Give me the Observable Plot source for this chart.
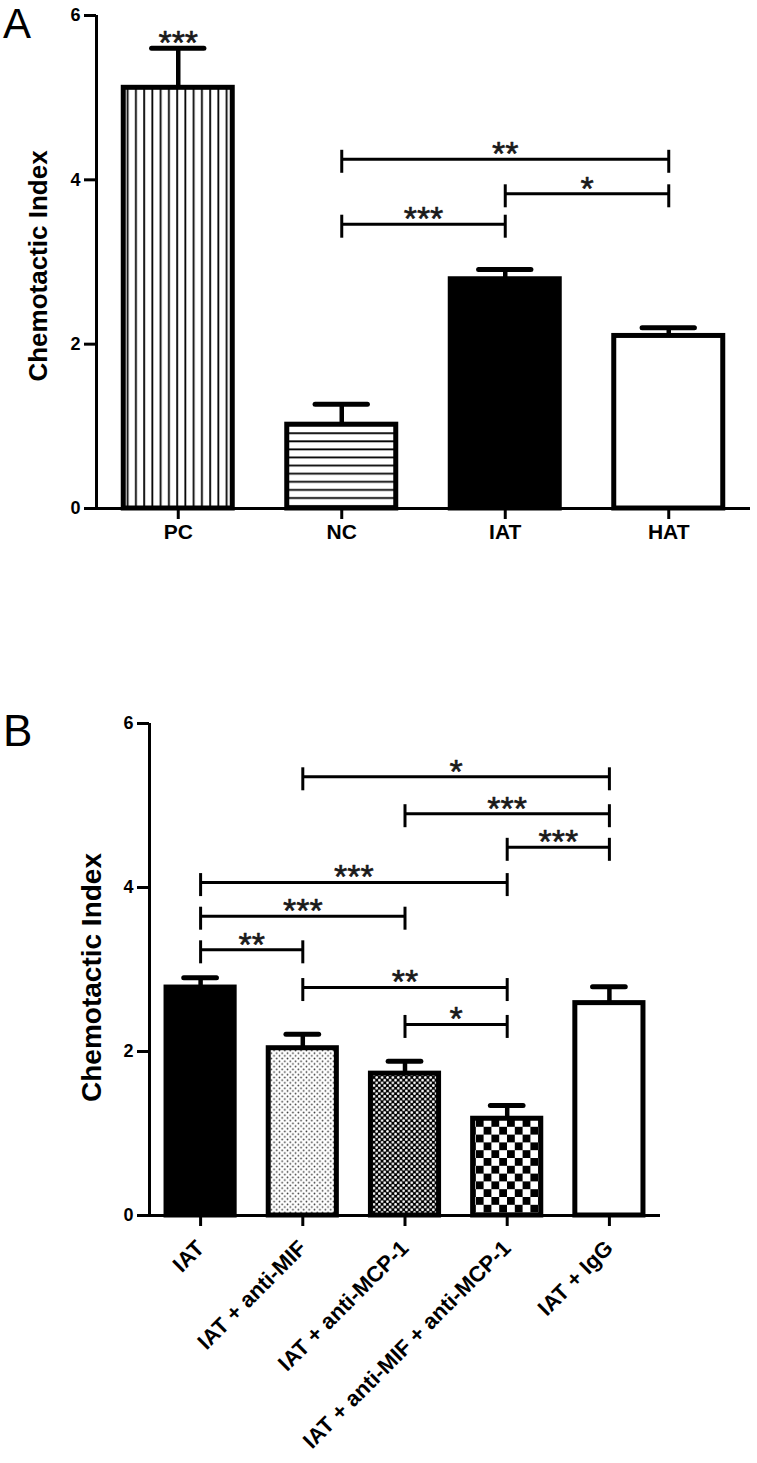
<!DOCTYPE html>
<html>
<head>
<meta charset="utf-8">
<script src="https://cdn.jsdelivr.net/npm/d3@7"></script>
<script src="https://cdn.jsdelivr.net/npm/@observablehq/plot@0.6"></script>
<style>
html,body{margin:0;padding:0;background:#fff;}
#root{position:relative;width:757px;height:1463px;overflow:hidden;font-family:"Liberation Sans",Arial,sans-serif;}
.letter{position:absolute;left:3px;font-size:42px;line-height:1.15;color:#000;font-weight:normal;z-index:2;}
.chart{position:absolute;left:0;}
</style>
</head>
<body>
<div id="root">
<svg width="0" height="0" style="position:absolute;left:0;top:0">
  <defs>
    <pattern id="vlines" patternUnits="userSpaceOnUse" width="8.25" height="8">
      <rect width="8.25" height="8" fill="#fff"/>
      <rect x="3" y="0" width="1.8" height="8" fill="#000"/>
    </pattern>
    <pattern id="hlines" patternUnits="userSpaceOnUse" width="8" height="8.1">
      <rect width="8" height="8.1" fill="#fff"/>
      <rect x="0" y="3" width="8" height="1.8" fill="#000"/>
    </pattern>
    <pattern id="dots" patternUnits="userSpaceOnUse" width="5.4" height="5.4">
      <rect width="5.4" height="5.4" fill="#fff"/>
      <circle cx="1.35" cy="1.35" r="0.85" fill="#333"/>
      <circle cx="4.05" cy="4.05" r="0.85" fill="#333"/>
    </pattern>
    <pattern id="finecheck" patternUnits="userSpaceOnUse" width="5.4" height="5.4">
      <rect width="5.4" height="5.4" fill="#000"/>
      <circle cx="1.35" cy="1.35" r="1.35" fill="#fff"/>
      <circle cx="4.05" cy="4.05" r="1.35" fill="#fff"/>
    </pattern>
    <pattern id="checker" patternUnits="userSpaceOnUse" width="15.6" height="15.6">
      <rect width="15.6" height="15.6" fill="#fff"/>
      <rect x="0" y="0" width="7.8" height="7.8" fill="#000"/>
      <rect x="7.8" y="7.8" width="7.8" height="7.8" fill="#000"/>
    </pattern>
  </defs>
</svg>
<div class="letter" style="top:0px">A</div>
<div class="letter" style="top:706px;font-size:44px">B</div>
<div id="chartA" class="chart" style="top:0px"></div>
<div id="chartB" class="chart" style="top:690px"></div>
</div>
<script>
// ---------- Panel A data ----------
const catsA = ["PC", "NC", "IAT", "HAT"];
const meanA = [5.12, 1.02, 2.79, 2.10];
const semA  = [0.48, 0.25, 0.12, 0.10];
const fillsA = ["url(#vlines)", "url(#hlines)", "#000", "#fff"];
const topStarA = ["***", "", "", ""];
const sigAFrom  = ["NC", "IAT", "NC"];
const sigATo    = ["HAT", "HAT", "IAT"];
const sigALevel = [4.25, 3.83, 3.46];
const sigALabel = ["**", "*", "***"];

// ---------- Panel B data ----------
const catsB = ["IAT", "IAT + anti-MIF", "IAT + anti-MCP-1", "IAT + anti-MIF + anti-MCP-1", "IAT + IgG"];
const meanB = [2.78, 2.04, 1.73, 1.18, 2.59];
const semB  = [0.12, 0.17, 0.15, 0.16, 0.20];
const fillsB = ["#000", "url(#dots)", "url(#finecheck)", "url(#checker)", "#fff"];
const sigBFrom  = ["IAT + anti-MIF", "IAT + anti-MCP-1", "IAT + anti-MIF + anti-MCP-1", "IAT", "IAT", "IAT", "IAT + anti-MIF", "IAT + anti-MCP-1"];
const sigBTo    = ["IAT + IgG", "IAT + IgG", "IAT + IgG", "IAT + anti-MIF + anti-MCP-1", "IAT + anti-MCP-1", "IAT + anti-MIF", "IAT + anti-MIF + anti-MCP-1", "IAT + anti-MIF + anti-MCP-1"];
const sigBLevel = [5.35, 4.90, 4.49, 4.06, 3.65, 3.24, 2.78, 2.33];
const sigBLabel = ["*", "***", "***", "***", "***", "**", "**", "*"];

const yTicks = [0, 2, 4, 6];
const yLabel = "Chemotactic Index";

function panel({cats, mean, sem, fills, from, to, level, label, topStars, width, height, mt, mb, ml, mr, xFont, rotate, xPad, yLabelSize, yLabelDx, yLabelDy}) {
  const bars = cats.map((c, i) => ({i, cat: c, mean: mean[i], top: mean[i] + sem[i], star: topStars ? topStars[i] : ""}));
  const idx = c => cats.indexOf(c);
  const sig = from.map((f, k) => ({a: idx(f), b: idx(to[k]), level: level[k], label: label[k]}));
  const half = 1 / 3;   // bar half-width in band steps
  const capHalf = 0.16; // error-cap half-width
  const starStyle = {lineAnchor: "middle", dy: -5, fontSize: 34, fill: "#1a1a1a", stroke: "#1a1a1a", strokeWidth: 0.6, fontWeight: "normal"};
  const marks = [
    Plot.rect(bars, {x1: d => d.i - half, x2: d => d.i + half, y1: 0, y2: "mean", fill: "cat", stroke: "#000", strokeWidth: 5}),
    Plot.ruleX(bars, {x: "i", y1: "mean", y2: "top", strokeWidth: 4.5, stroke: "#000"}),
    Plot.ruleY(bars, {y: "top", x1: d => d.i - capHalf, x2: d => d.i + capHalf, strokeWidth: 5, stroke: "#000", strokeLinecap: "round"}),
    Plot.ruleY(sig, {y: "level", x1: "a", x2: "b", strokeWidth: 3, stroke: "#000"}),
    Plot.ruleX(sig, {x: "a", y1: "level", y2: "level", insetTop: -9, insetBottom: -14, strokeWidth: 3, stroke: "#000"}),
    Plot.ruleX(sig, {x: "b", y1: "level", y2: "level", insetTop: -9, insetBottom: -14, strokeWidth: 3, stroke: "#000"}),
    Plot.text(sig, {x: d => (d.a + d.b) / 2, y: "level", text: "label", ...starStyle}),
    Plot.text(bars.filter(d => d.star), {x: "i", y: "top", text: "star", ...starStyle}),
    Plot.ruleX([-0.5], {strokeWidth: 3, stroke: "#000"}),
    Plot.ruleY([0], {strokeWidth: 3, stroke: "#000"}),
    Plot.axisY({ticks: yTicks, tickFormat: d3.format("d"), tickSize: 12, tickPadding: 4, strokeWidth: 3, fontSize: 18, fontWeight: "bold", label: null}),
    Plot.axisX({ticks: d3.range(cats.length), tickFormat: i => cats[i], tickSize: 11, tickPadding: xPad, tickRotate: rotate || 0, strokeWidth: 3, fontSize: xFont, fontWeight: "bold", label: null}),
    Plot.text([yLabel], {text: d => d, frameAnchor: "left", textAnchor: "middle", lineAnchor: "middle", rotate: -90, dx: yLabelDx, dy: yLabelDy, fontSize: yLabelSize, fontWeight: "bold", fill: "#000"})
  ];
  return Plot.plot({
    width, height,
    marginTop: mt, marginBottom: mb, marginLeft: ml, marginRight: mr,
    style: {fontFamily: "'Liberation Sans', Arial, sans-serif", fontWeight: "bold", color: "#000", background: "transparent", overflow: "visible"},
    x: {domain: [-0.5, cats.length - 0.5]},
    y: {domain: [0, 6]},
    color: {type: "ordinal", domain: cats, range: fills},
    marks
  });
}

document.getElementById("chartA").append(panel({
  cats: catsA, mean: meanA, sem: semA, fills: fillsA,
  from: sigAFrom, to: sigATo, level: sigALevel, label: sigALabel, topStars: topStarA,
  width: 757, height: 560, mt: 15, mb: 52, ml: 96, mr: 7, xFont: 21, rotate: 0, xPad: 5,
  yLabelSize: 26, yLabelDx: -58, yLabelDy: 4
}));

document.getElementById("chartB").append(panel({
  cats: catsB, mean: meanB, sem: semB, fills: fillsB,
  from: sigBFrom, to: sigBTo, level: sigBLevel, label: sigBLabel, topStars: null,
  width: 757, height: 773, mt: 33, mb: 248, ml: 149, mr: 97, xFont: 22, rotate: -45, xPad: 18,
  yLabelSize: 28, yLabelDx: -57, yLabelDy: 8
}));
</script>
</body>
</html>
